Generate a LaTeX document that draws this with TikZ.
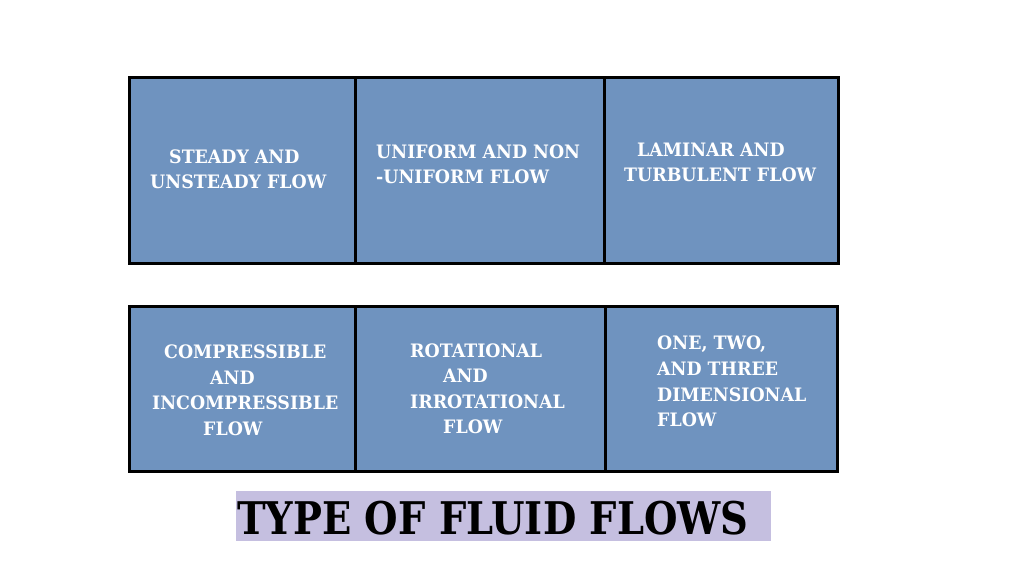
\documentclass[tikz,border=0pt]{standalone}
\usepackage{fontspec}
\newfontfamily\stencil[FakeStretch=0.94]{DejaVu Serif}
\newfontfamily\stenciltitle[FakeStretch=0.855]{DejaVu Serif}
\definecolor{boxblue}{HTML}{6F93BF}
\definecolor{lavender}{HTML}{C5BFE0}
\tikzset{
  cell/.style={draw=black, line width=3pt, fill=boxblue},
  lbl/.style={anchor=west, inner sep=0pt, text=white, font=\stencil\bfseries\fontsize{18.5}{18.5}\selectfont},
  ttl/.style={anchor=west, inner sep=0pt, text=black, font=\stenciltitle\bfseries\fontsize{45}{45}\selectfont}
}
\begin{document}
\begin{tikzpicture}[x=1pt,y=-1pt]
\useasboundingbox (0,0) rectangle (1024,576);
% top row
\draw[cell] (129,77) rectangle (355,263);
\draw[cell] (355,77) rectangle (604,263);
\draw[cell] (604,77) rectangle (838,263);
% bottom row
\draw[cell] (129,306) rectangle (355,471);
\draw[cell] (355,306) rectangle (605,471);
\draw[cell] (605,306) rectangle (837,471);
% title background
\fill[lavender] (236,491) rectangle (771,541);
\node[ttl] (title) at (237,518) {TYPE OF FLUID FLOWS};
% labels top
\node[lbl] (a1) at (169,157) {STEADY AND};
\node[lbl] (a2) at (150,182) {UNSTEADY FLOW};
\node[lbl] (b1) at (376,152) {UNIFORM AND NON};
\node[lbl] (b2) at (376,177) {-UNIFORM FLOW};
\node[lbl] (c1) at (637,150) {LAMINAR AND};
\node[lbl] (c2) at (624,175) {TURBULENT FLOW};
% labels bottom
\node[lbl] (d1) at (164,352) {COMPRESSIBLE};
\node[lbl] (d2) at (210,378) {AND};
\node[lbl] (d3) at (152,403) {INCOMPRESSIBLE};
\node[lbl] (d4) at (203,429) {FLOW};
\node[lbl] (e1) at (410,351) {ROTATIONAL};
\node[lbl] (e2) at (443,376) {AND};
\node[lbl] (e3) at (410,402) {IRROTATIONAL};
\node[lbl] (e4) at (443,427) {FLOW};
\node[lbl] (f1) at (657,344) {ONE, TWO,};
\node[lbl] (f2) at (657,369) {AND THREE};
\node[lbl] (f3) at (657,395) {DIMENSIONAL};
\node[lbl] (f4) at (657,420) {FLOW};
\end{tikzpicture}
\end{document}
